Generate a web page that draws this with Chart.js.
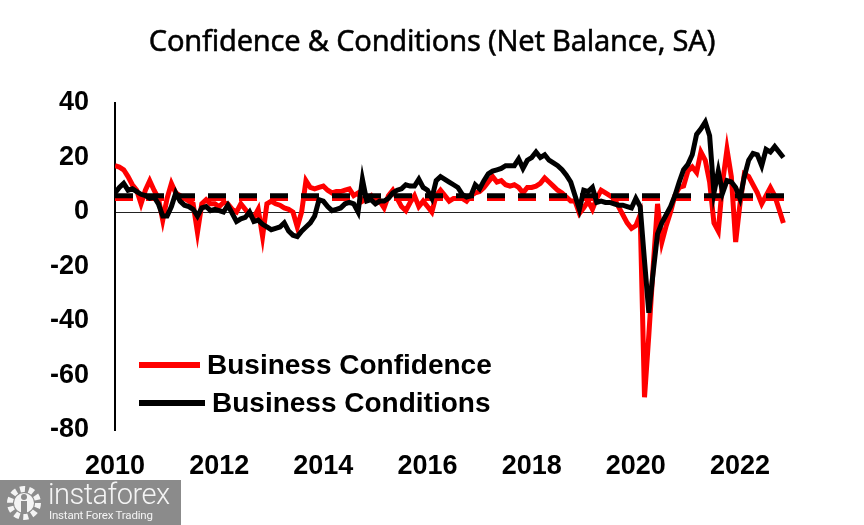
<!DOCTYPE html>
<html>
<head>
<meta charset="utf-8">
<script src="https://cdn.jsdelivr.net/npm/chart.js@4.4.1/dist/chart.umd.min.js"></script>
<style>
    html, body { margin: 0; padding: 0; background: #fff; }
    #wrap { position: relative; width: 864px; height: 525px; }
    #title {
        position: absolute; left: 0; top: 25px; width: 864px; text-align: center;
        font-family: "Noto Sans", sans-serif; font-size: 29px; line-height: 29px; color: #000;
        letter-spacing: -0.2px; -webkit-text-stroke: 0.5px #000;
    }
    #logo {
        position: absolute; left: 0; top: 480px; width: 181px; height: 45px;
        background: #8b8b8b; color: #f4f4f4; font-family: "Roboto", sans-serif;
    }
    #logo svg { position: absolute; left: 4px; top: 3px; }
    #logo .brand { position: absolute; left: 48px; top: -3px; font-size: 29px; font-weight: 300; letter-spacing: -0.5px; }
    #logo .sub { position: absolute; left: 49px; top: 28px; font-size: 11.5px; letter-spacing: -0.2px; }
</style>
</head>
<body>
<div id="wrap">
    <canvas id="chart" width="864" height="525"></canvas>
    <div id="title">Confidence &amp; Conditions (Net Balance, SA)</div>
    <div id="logo">
        <svg width="40" height="40" viewBox="0 0 40 40">
            <circle cx="20" cy="20" r="14" fill="none" stroke="#f4f4f4" stroke-width="6" stroke-dasharray="5 3.8"/>
            <circle cx="20" cy="20" r="10" fill="#f4f4f4"/>
            <circle cx="20" cy="14" r="3" fill="#8b8b8b"/>
            <rect x="17" y="18" width="6" height="12" fill="#8b8b8b"/>
        </svg>
        <div class="brand">instaforex</div>
        <div class="sub">Instant Forex Trading</div>
    </div>
</div>
<script>
// monthly net balance, Jan 2010 .. Nov 2022
const startYear = 2010;

const confidence = [
    17, 16.5, 15.5, 13, 10, 8, 3, 8, 11.5, 8, 5, -3,          // 2010
    5, 10.5, 7, 6, 5, 4, 3, -7.5, 3, 4.5, 3, 3,               // 2011
    2, 3.5, 3, 1, 0, 3, 1, -1, -2, 1, -9, 3,                  // 2012
    4, 3, 2.5, 1.5, 1, 0, -5.5, 0, 11.5, 9, 8.5, 9,           // 2013
    9.5, 8, 7, 7.5, 7.5, 8, 8.5, 6, 7, 4, 5, 6,               // 2014
    3.5, 4, 1.5, 6, 8, 5, 2, 0.5, 3.5, 6, 2, 4,               // 2015
    2, 0, 6, 8, 6, 4, 5, 5, 5, 4, 6, 7,                       // 2016
    7.5, 9, 11, 13, 11, 11.5, 10, 9.5, 10, 9, 7, 9,           // 2017
    9, 9.5, 10.5, 12.5, 11, 9.5, 8, 7, 5.5, 4, 4, -0.5,       // 2018
    1.5, 4, 1, 5, 8, 7, 6, 5, 2, -1, -4, -6,                  // 2019
    -5, -1, -68, -45, -20, 3, -11, -5, 0, 6, 9, 9.5,          // 2020
    15, 16.5, 14.5, 22, 19, 11, -4, -7, 11, 23, 13, -11,      // 2021
    3, 14, 13, 10, 7, 3, 6, 9, 6, 1, -4                       // 2022
];

const conditions = [
    7, 9, 10.5, 8, 8.5, 7.5, 6.5, 6, 5, 5.5, 3, -1.5,         // 2010
    -1.5, 2, 7, 4, 2.5, 2, 1, -1.5, 1.5, 2, 0.5, 1,           // 2011
    0.5, 0, 2.5, -0.5, -3.5, -2.5, -2, 0, -3.5, -3, -4.5, -5.5, // 2012
    -6.5, -6, -5.5, -4, -7, -8.5, -9, -7, -5.5, -4, -1.5, 4.5, // 2013
    4, 2, 0.5, 1, 1.5, 3, 3.5, 3, 0, 12, 4, 4.5,              // 2014
    3, 4, 4, 5, 7, 8, 8.5, 10, 9.5, 9.5, 12, 9,               // 2015
    8, 5, 11.5, 13, 12, 11, 10, 9, 6.5, 5.5, 6, 10,           // 2016
    8.5, 11.5, 14, 15, 15.5, 16, 17, 17, 17, 19.5, 16, 19,    // 2017
    20, 22, 20, 21, 19, 18, 17, 15.5, 13.5, 11, 6, 1,         // 2018
    8, 7.5, 9, 3.5, 4, 3.5, 3.5, 3, 2.5, 2.5, 2, 1.5,         // 2019
    5, 2, -18, -37, -22, -8, -4, -1, 2, 6, 11, 15.5,          // 2020
    17.5, 21, 28.5, 30.5, 33, 28, 7, 15, 7, 11.5, 11, 9,      // 2021
    5, 13, 19, 21.5, 21, 17, 23, 22, 24, 22, 20               // 2022
];

// long-run averages (dashed)
const confidenceAvg = 5;
const conditionsAvg = 6;

const xTicks = [2010, 2012, 2014, 2016, 2018, 2020, 2022];
const yTicks = [40, 20, 0, -20, -40, -60, -80];

const toPoints = arr => arr.map((v, i) => ({ x: startYear + i / 12, y: v }));
const lastX = startYear + (conditions.length - 1) / 12;
const avgLine = v => [{ x: startYear, y: v }, { x: lastX + 0.1, y: v }];

const tickFont = { family: "'Liberation Sans', Arial, sans-serif", size: 27, weight: "bold" };

const legendInside = {
    id: "legendInside",
    afterDraw(chart) {
        const ctx = chart.ctx;
        const items = [
            { ds: chart.data.datasets[3], x1: 139, x2: 200, y: 365 },
            { ds: chart.data.datasets[0], x1: 139, x2: 205, y: 403 }
        ];
        ctx.save();
        ctx.font = "bold 28px 'Liberation Sans', Arial, sans-serif";
        ctx.textBaseline = "middle";
        ctx.fillStyle = "#000";
        items.forEach(it => {
            ctx.beginPath();
            ctx.strokeStyle = it.ds.borderColor;
            ctx.lineWidth = 6;
            ctx.moveTo(it.x1, it.y);
            ctx.lineTo(it.x2, it.y);
            ctx.stroke();
            ctx.fillText(it.ds.label, it.x2 + 7, it.y + 1);
        });
        ctx.restore();
    }
};

new Chart(document.getElementById("chart"), {
    type: "line",
    data: {
        datasets: [
            {
                label: "Business Conditions",
                data: toPoints(conditions),
                borderColor: "#000000",
                borderWidth: 5,
                pointRadius: 0,
                order: 0
            },
            {
                label: "Conditions avg",
                data: avgLine(conditionsAvg),
                borderColor: "#000000",
                borderWidth: 5,
                borderDash: [18, 13],
                pointRadius: 0,
                order: 1
            },
            {
                label: "Confidence avg",
                data: avgLine(confidenceAvg),
                borderColor: "#ff0000",
                borderWidth: 5,
                borderDash: [18, 13],
                pointRadius: 0,
                order: 2
            },
            {
                label: "Business Confidence",
                data: toPoints(confidence),
                borderColor: "#ff0000",
                borderWidth: 5,
                pointRadius: 0,
                order: 3
            }
        ]
    },
    options: {
        responsive: false,
        animation: false,
        devicePixelRatio: 1,
        layout: { padding: { left: 0, right: 74, top: 103, bottom: 0 } },
        scales: {
            x: {
                type: "linear",
                min: 2010,
                max: 2022.96,
                grid: { display: false },
                border: { display: false },
                afterBuildTicks: s => { s.ticks = xTicks.map(v => ({ value: v })); },
                afterFit: s => { s.height = 95; },
                ticks: {
                    color: "#000",
                    font: tickFont,
                    padding: 12,
                    maxRotation: 0,
                    callback: v => String(v)
                }
            },
            y: {
                min: -80,
                max: 40,
                afterBuildTicks: s => { s.ticks = yTicks.map(v => ({ value: v })); },
                afterFit: s => { s.width = 115; },
                border: { display: true, color: "#000", width: 2 },
                grid: {
                    drawTicks: false,
                    lineWidth: 1,
                    color: c => (c.tick && c.tick.value === 0 ? "#222" : "rgba(0,0,0,0)")
                },
                ticks: {
                    color: "#000",
                    font: tickFont,
                    padding: 26
                }
            }
        },
        plugins: {
            legend: { display: false },
            tooltip: { enabled: false },
            title: { display: false }
        }
    },
    plugins: [legendInside]
});
</script>
</body>
</html>
